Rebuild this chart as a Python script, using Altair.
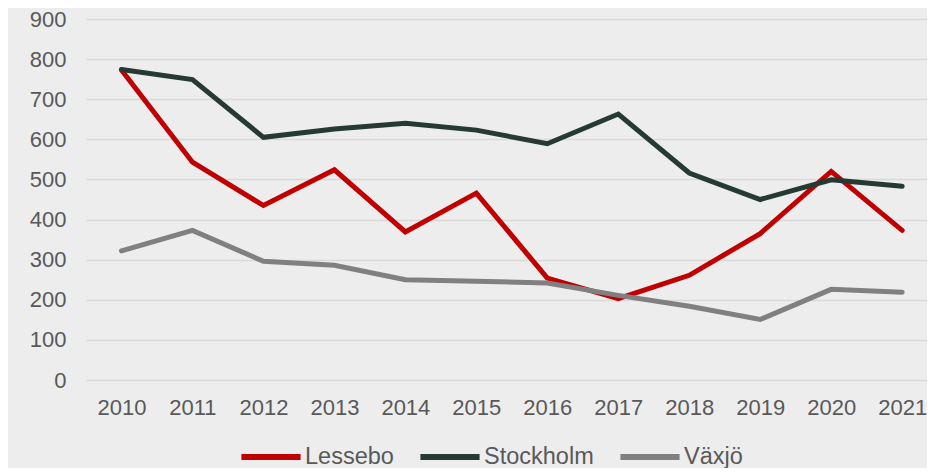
import altair as alt
import pandas as pd

years = list(range(2010, 2022))
lessebo = [773, 543, 435, 524, 369, 466, 254, 203, 261, 365, 520, 373]
stockholm = [774, 749, 605, 626, 640, 623, 589, 663, 516, 450, 499, 483]
vaxjo = [322, 373, 296, 286, 250, 246, 242, 211, 184, 151, 226, 219]
series = ["Lessebo", "Stockholm", "Växjö"]
colors = ["#C00000", "#253A33", "#808080"]
y_ticks = list(range(0, 1000, 100))

rows = []
for name, vals in zip(series, [lessebo, stockholm, vaxjo]):
    for yr, v in zip(years, vals):
        rows.append({"År": yr, "Värde": v, "Kommun": name, "ord": series.index(name)})
df = pd.DataFrame(rows)

FONT = "Liberation Sans"
TXT = "#595959"

chart = alt.Chart(df).mark_line(strokeWidth=5, strokeCap="round").encode(
    x=alt.X("År:Q",
            scale=alt.Scale(domain=[2009.5, 2021.35], nice=False, zero=False),
            axis=alt.Axis(values=years, format="d", title=None, grid=False,
                          ticks=False, domain=False, labelFontSize=22,
                          labelColor=TXT, labelFont=FONT, labelPadding=17)),
    y=alt.Y("Värde:Q",
            scale=alt.Scale(domain=[0, 900], nice=False),
            axis=alt.Axis(values=y_ticks, title=None, ticks=False, domain=False,
                          labelFontSize=22, labelColor=TXT, labelFont=FONT,
                          labelPadding=20, gridColor="#D9D9D9", gridWidth=1.5)),
    color=alt.Color("Kommun:N",
                    scale=alt.Scale(domain=series, range=colors),
                    legend=alt.Legend(title=None, orient="none", direction="horizontal",
                                      legendX=152, legendY=405,
                                      symbolType="stroke", symbolSize=3500,
                                      symbolStrokeWidth=6, labelOffset=1,
                                      columnPadding=14, labelFontSize=23.5,
                                      labelColor=TXT, labelFont=FONT)),
    order=alt.Order("ord:Q"),
).properties(
    width=841, height=361,
    background="#EDEDED",
    padding={"left": 78, "top": 11, "right": 0, "bottom": 88},
    autosize=alt.AutoSizeParams(type="none"),
).configure_view(stroke=None)

chart.save("out.html", embed_options={"renderer": "svg", "actions": False})
